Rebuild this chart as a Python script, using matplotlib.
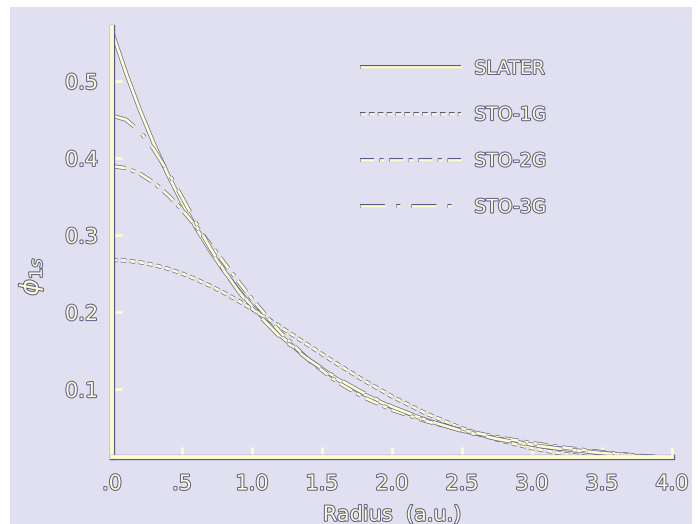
import matplotlib
matplotlib.use("Agg")
import matplotlib.pyplot as plt
import matplotlib.patheffects as pe
from matplotlib.patches import Rectangle

# radius (a.u.)
r = [0.0, 0.1, 0.2, 0.3, 0.4, 0.5, 0.6, 0.7, 0.8, 0.9, 1.0, 1.2, 1.4, 1.6, 1.8,
     2.0, 2.25, 2.5, 2.75, 3.0, 3.25, 3.5, 3.75, 4.0]

slater = [0.5642, 0.5105, 0.4619, 0.4180, 0.3782, 0.3422, 0.3096, 0.2802, 0.2535,
          0.2294, 0.2076, 0.1699, 0.1391, 0.1139, 0.0933, 0.0764, 0.0595, 0.0463,
          0.0361, 0.0281, 0.0219, 0.0170, 0.0133, 0.0103]
sto1g = [0.2676, 0.2669, 0.2647, 0.2612, 0.2563, 0.2501, 0.2427, 0.2343, 0.2250,
         0.2149, 0.2041, 0.1812, 0.1573, 0.1338, 0.1112, 0.0906, 0.0679, 0.0492,
         0.0345, 0.0234, 0.0153, 0.0097, 0.0059, 0.0035]
sto2g = [0.3894, 0.3869, 0.3796, 0.3677, 0.3520, 0.3329, 0.3114, 0.2883, 0.2643,
         0.2403, 0.2171, 0.1742, 0.1386, 0.1105, 0.0892, 0.0731, 0.0582, 0.0469,
         0.0378, 0.0301, 0.0237, 0.0184, 0.0139, 0.0104]
sto3g = [0.4550, 0.4497, 0.4345, 0.4110, 0.3816, 0.3490, 0.3157, 0.2838, 0.2542,
         0.2280, 0.2051, 0.1679, 0.1389, 0.1150, 0.0946, 0.0772, 0.0595, 0.0458,
         0.0354, 0.0275, 0.0216, 0.0171, 0.0136, 0.0107]

labels = ["SLATER", "STO-1G", "STO-2G", "STO-3G"]
xticks = [0.0, 0.5, 1.0, 1.5, 2.0, 2.5, 3.0, 3.5, 4.0]
xticklabels = [".0", ".5", "1.0", "1.5", "2.0", "2.5", "3.0", "3.5", "4.0"]
yticks = [0.1, 0.2, 0.3, 0.4, 0.5]
yticklabels = ["0.1", "0.2", "0.3", "0.4", "0.5"]

cream = "#fffcd0"
edge = "#5a5a88"
bg = "#e0e0f0"

W, H = 698, 524
fig = plt.figure(figsize=(W / 100, H / 100), dpi=100, facecolor="white")
fig.patches.append(Rectangle((10 / W, 0), 682 / W, 517 / H, transform=fig.transFigure,
                             facecolor=bg, edgecolor="none", zorder=-10))

ax = fig.add_axes([112 / W, (H - 457) / H, 560 / W, 430 / H])
ax.set_facecolor("none")

line_fx = [pe.Stroke(linewidth=2.9, foreground=edge), pe.Normal()]
text_fx = [pe.withStroke(linewidth=1.4, foreground=edge)]

styles = ["-", (0, (2, 1.2)), (0, (5, 2, 1.5, 2)), (0, (9, 4, 1.5, 4))]
series = [slater, sto1g, sto2g, sto3g]
for y, ls, lab in zip(series, styles, labels):
    ax.plot(r, y, color=cream, lw=2.0, ls=ls, label=lab, path_effects=line_fx,
            solid_capstyle="butt")

ax.set_xlim(0, 4.0)
ax.set_ylim(0.012, 0.57)

for s in ["top", "right"]:
    ax.spines[s].set_visible(False)
for s in ["left", "bottom"]:
    ax.spines[s].set_color(cream)
    ax.spines[s].set_linewidth(2.8)
    ax.spines[s].set_path_effects([pe.Stroke(linewidth=3.8, foreground=edge), pe.Normal()])

ax.set_xticks(xticks)
ax.set_xticklabels(xticklabels)
ax.set_yticks(yticks)
ax.set_yticklabels(yticklabels)
ax.tick_params(direction="in", length=7, width=2, color=cream, labelsize=15,
               labelcolor=cream)
ax.tick_params(axis="x", pad=12)
ax.tick_params(axis="y", pad=10)
for t in ax.get_xticklabels() + ax.get_yticklabels():
    t.set_path_effects(text_fx)

ax.set_xlabel("Radius  (a.u.)", fontsize=15, color=cream, labelpad=8,
              path_effects=text_fx)
ax.set_ylabel(r"$\phi_{1s}$", fontsize=18, color=cream, path_effects=text_fx)
ax.yaxis.set_label_coords(-0.12, 0.42)

leg = ax.legend(loc="upper left", bbox_to_anchor=(360 / W, 1 - 59 / H),
                bbox_transform=fig.transFigure, frameon=False, fontsize=13.5,
                handlelength=5.4, handletextpad=0.7, labelspacing=1.45,
                borderpad=0, borderaxespad=0)
for ln in leg.get_lines():
    ln.set_path_effects(line_fx)
for t in leg.get_texts():
    t.set_color(cream)
    t.set_path_effects(text_fx)

fig.savefig("out.png", dpi=100, facecolor="white")
